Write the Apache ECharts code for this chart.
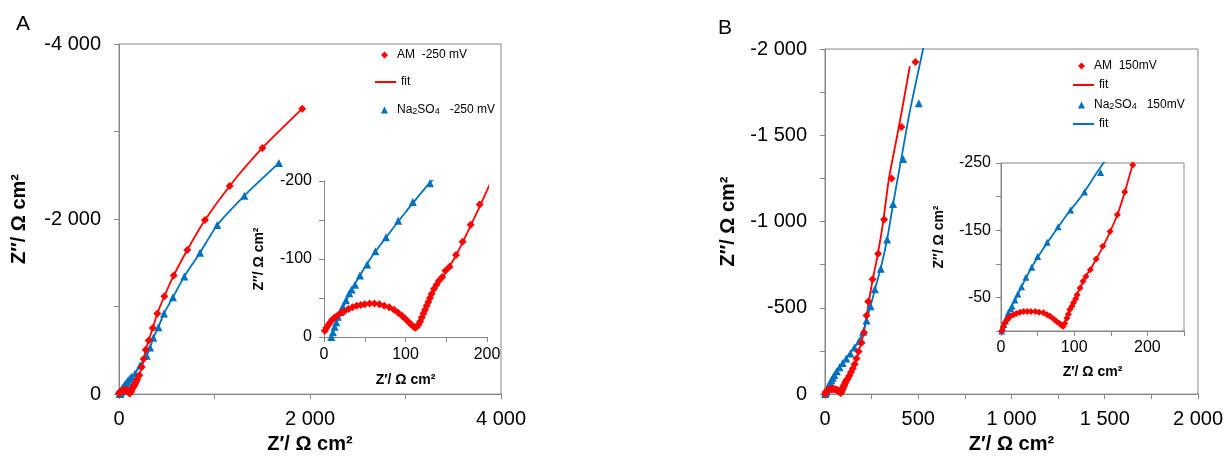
<!DOCTYPE html>
<html>
<head>
<meta charset="utf-8">
<script src="https://cdn.jsdelivr.net/npm/echarts@6/dist/echarts.min.js"></script>
<style>
html,body{margin:0;padding:0;background:#fff;}
#c{width:1226px;height:459px;}
</style>
</head>
<body>
<div id="c"></div>
<script>
// ---------- DATA (Z' , Z'' in Ω cm²) ----------
// Panel A (-250 mV)
const amA = [[1,-8],[3,-12],[5,-15],[7,-18],[10,-22],[13,-25],[17,-28],[21,-31],[25,-33],[30,-36],[35,-38],[40,-40],[45,-41],[50,-42],[56,-43],[62,-43],[68,-42],[74,-40],[80,-38],[86,-35],[91,-31],[96,-27],[100,-23],[104,-19],[107,-16],[110,-13],[112,-12],[114,-13],[116,-16],[118,-20],[120,-25],[122,-30],[124,-35],[126,-40],[128,-45],[130,-50],[132,-55],[135,-62],[138,-67],[141,-72],[145,-77],[149,-85],[154,-90],[162,-105],[170,-122],[180,-144],[191,-170],[213,-216],[238,-309],[258,-401],[279,-506],[311,-613],[353,-754],[401,-921],[475,-1118],[573,-1356],[715,-1646],[900,-1988],[1159,-2378],[1501,-2812],[1919,-3261]];
const fitAmA = [[0,-7],[5,-15],[10,-22],[20,-30],[30,-36],[40,-40],[50,-42],[60,-43],[70,-41],[80,-38],[90,-32],[100,-23],[106,-17],[111,-12],[115,-14],[120,-24],[130,-48],[140,-68],[150,-84],[160,-101],[170,-121],[180,-143],[190,-165],[200,-188],[215,-222],[240,-310],[260,-400],[280,-505],[310,-612],[353,-754],[401,-921],[475,-1118],[573,-1356],[715,-1646],[900,-1988],[1159,-2378],[1501,-2812],[1919,-3261]];
const naA = [[9,0],[11,-6],[13,-13],[15,-19],[17,-26],[20,-32],[23,-39],[27,-47],[31,-56],[34,-61],[38,-67],[44,-79],[53,-93],[63,-110],[76,-128],[91,-149],[109,-173],[130,-197],[168,-234],[220,-327],[290,-439],[325,-531],[359,-643],[412,-765],[471,-921],[565,-1107],[684,-1345],[848,-1616],[1029,-1932],[1312,-2266],[1675,-2641]];
const fitNaA = [[8,0],[15,-18],[25,-42],[40,-72],[60,-105],[80,-133],[100,-160],[130,-198],[170,-238],[220,-327],[290,-440],[325,-531],[359,-643],[412,-765],[471,-921],[565,-1107],[684,-1345],[848,-1616],[1029,-1932],[1312,-2266],[1675,-2641]];
// Panel B (150 mV)
const amB = [[1,0],[3,-6],[5,-12],[8,-16],[10,-19],[13,-22],[17,-24],[21,-26],[26,-28],[31,-29],[36,-29],[41,-29],[47,-29],[52,-28],[58,-27],[63,-24],[67,-22],[72,-18],[76,-14],[80,-11],[83,-8],[85,-7],[87,-11],[90,-19],[92,-25],[94,-32],[97,-37],[99,-42],[102,-48],[104,-54],[108,-64],[112,-74],[116,-81],[122,-91],[130,-107],[139,-126],[149,-148],[159,-173],[169,-207],[180,-247],[196,-298],[209,-357],[223,-456],[232,-536],[255,-665],[285,-813],[317,-1012],[357,-1250],[410,-1548],[485,-1924]];
const fitAmB = [[0,0],[3,-8],[8,-16],[15,-23],[25,-28],[35,-29],[45,-29],[55,-28],[65,-23],[75,-15],[84,-8],[88,-14],[95,-33],[105,-57],[115,-80],[125,-97],[140,-127],[150,-150],[160,-176],[170,-210],[180,-248],[195,-300],[210,-370],[225,-460],[235,-536],[255,-660],[283,-810],[312,-1000],[343,-1250],[396,-1548],[455,-1900]];
const naB = [[1,0],[2,-5],[4,-10],[6,-15],[8,-21],[10,-27],[13,-33],[15,-37],[19,-46],[23,-55],[28,-66],[34,-80],[42,-95],[50,-111],[63,-132],[78,-155],[95,-180],[114,-207],[136,-236],[158,-270],[183,-308],[205,-361],[223,-427],[244,-509],[267,-608],[299,-727],[333,-896],[365,-1101],[419,-1362],[503,-1685]];
const fitNaB = [[0,0],[5,-13],[10,-27],[20,-48],[30,-70],[42,-95],[55,-118],[70,-142],[90,-173],[110,-201],[140,-250],[160,-274],[183,-308],[205,-365],[223,-430],[244,-510],[267,-605],[299,-730],[333,-896],[365,-1101],[410,-1370],[455,-1640],[526,-2000],[550,-2130]];

// legend labels
const legendText = {
  amA: '{t|AM  -250 mV}',
  fitA: '{t|fit}',
  naA: '{t|Na}{s|2}{t|SO}{s|4}{t|   -250 mV}',
  amB: '{t|AM  150mV}',
  fitB: '{t|fit}',
  naB: '{t|Na}{s|2}{t|SO}{s|4}{t|   150mV}',
  fitB2: '{t|fit}'
};

// ---------- STYLE ----------
const RED = '#FF0000', BLUE = '#0070C0', GRAY = '#868686';
const FONT = "'Liberation Sans', Arial, sans-serif";

function fmt(v){
  const s = String(Math.abs(v)).replace(/\B(?=(\d{3})+(?!\d))/g, ' ');
  return (v < 0 ? '-' : '') + s;
}
function axis(opts){
  return {
    type: 'value', gridIndex: opts.g, min: opts.min, max: opts.max, interval: opts.interval,
    inverse: !!opts.inverse,
    name: opts.name, nameLocation: 'middle', nameGap: opts.nameGap,
    nameTextStyle: {fontFamily: FONT, fontWeight: 'bold', fontSize: opts.nameSize, color: '#000', padding: opts.namePad || 0},
    axisLine: {show: true, onZero: false, lineStyle: {color: GRAY, width: 1}},
    axisTick: {show: true, length: 5, lineStyle: {color: GRAY}},
    splitLine: {show: false},
    axisLabel: {fontFamily: FONT, fontSize: opts.labelSize, color: '#000', margin: opts.margin,
      formatter: v => opts.show(v) ? fmt(v) : ''}
  };
}
const xAxes = [
  axis({g:0, min:0, max:4000, interval:1000, name:'Z\u2032/ \u03A9 cm\u00B2', nameGap:37, nameSize:20, labelSize:20, margin:15, show:v=>v%2000===0}),
  axis({g:1, min:0, max:200, interval:50, name:'Z\u2032/ \u03A9 cm\u00B2', nameGap:36, nameSize:14, labelSize:16, margin:10, show:v=>v%100===0}),
  axis({g:2, min:0, max:2000, interval:250, name:'Z\u2032/ \u03A9 cm\u00B2', nameGap:38, nameSize:20, labelSize:20, margin:15, show:v=>v%500===0}),
  axis({g:3, min:0, max:250, interval:50, name:'Z\u2032/ \u03A9 cm\u00B2', nameGap:34, nameSize:14, labelSize:16, margin:9, show:v=>v%100===0})
];
const yAxes = [
  axis({g:0, min:-4000, max:0, interval:1000, inverse:true, name:'Z\u2033/ \u03A9 cm\u00B2', nameGap:90, nameSize:20, labelSize:20, margin:18, show:v=>v%2000===0}),
  axis({g:1, min:-200, max:0, interval:50, inverse:true, name:'Z\u2033/ \u03A9 cm\u00B2', nameGap:58, nameSize:14, labelSize:16, margin:12, show:v=>v%100===0}),
  axis({g:2, min:-2000, max:0, interval:250, inverse:true, name:'Z\u2033/ \u03A9 cm\u00B2', nameGap:87, nameSize:20, labelSize:20, margin:18, show:v=>v%500===0}),
  axis({g:3, min:-250, max:0, interval:50, inverse:true, name:'Z\u2033/ \u03A9 cm\u00B2', nameGap:55, nameSize:14, labelSize:16, margin:10, namePad:[0,0,0,20], show:v=>Math.abs(v)%100===50})
];

function fitLine(name, data, g, color){
  return {type:'line', name, data, xAxisIndex:g, yAxisIndex:g, symbol:'none', showSymbol:false,
    smooth:0.2, clip:true, lineStyle:{color, width:1.8}, itemStyle:{color}, z:2};
}
function pts(name, data, g, color, symbol, size){
  return {type:'scatter', name, data, xAxisIndex:g, yAxisIndex:g, symbol, symbolSize:size, clip:true,
    itemStyle:{color, opacity:1}, z:3};
}

const series = [
  fitLine('fitA', fitAmA, 0, RED), fitLine('fitNaA', fitNaA, 0, BLUE),
  pts('naA', naA, 0, BLUE, 'triangle', 8), pts('amA', amA, 0, RED, 'diamond', 8),
  fitLine('fitA', fitAmA, 1, RED), fitLine('fitNaA', fitNaA, 1, BLUE),
  pts('naA', naA, 1, BLUE, 'triangle', 8), pts('amA', amA, 1, RED, 'diamond', 8),
  fitLine('fitB', fitAmB, 2, RED), fitLine('fitB2', fitNaB, 2, BLUE),
  pts('naB', naB, 2, BLUE, 'triangle', 8), pts('amB', amB, 2, RED, 'diamond', 8),
  fitLine('fitB', fitAmB, 3, RED), fitLine('fitB2', fitNaB, 3, BLUE),
  pts('naB', naB, 3, BLUE, 'triangle', 7), pts('amB', amB, 3, RED, 'diamond', 7)
];

const richText = {t:{fontFamily:FONT, fontSize:12, color:'#000'}, s:{fontFamily:FONT, fontSize:9, color:'#000', padding:[3,0,0,0]}};
function legendFor(left, top, gap, names, isLine){
  return {
    orient:'vertical', left, top, itemGap:gap, padding:0,
    itemWidth: isLine ? 21 : 7, itemHeight:7,
    formatter: n => legendText[n],
    textStyle:{fontFamily:FONT, fontSize:12, color:'#000', padding: isLine ? 0 : [0,0,0,4], rich:richText},
    data: names.map(n => isLine ? {name:n, itemStyle:{opacity:0}} : {name:n})
  };
}

const option = {
  animation:false,
  backgroundColor:'#fff',
  grid:[
    {left:119, top:44, width:382, height:359, show:true, borderColor:GRAY, borderWidth:1, backgroundColor:'transparent'},
    {left:324, top:181, width:163, height:156, show:false},
    {left:825, top:49, width:374, height:351, show:true, borderColor:GRAY, borderWidth:1, backgroundColor:'transparent'},
    {left:1001, top:163, width:183, height:168, show:true, borderColor:GRAY, borderWidth:1, backgroundColor:'transparent'}
  ],
  xAxis: xAxes,
  yAxis: yAxes,
  legend:[
    legendFor(381, 49, 43, ['amA','naA'], false),
    legendFor(374, 76, 13, ['fitA'], true),
    legendFor(1078, 60, 27, ['amB','naB'], false),
    legendFor(1072, 79, 27, ['fitB','fitB2'], true)
  ],
  graphic:[
    {type:'text', left:16, top:14, style:{text:'A', font:"21px 'Liberation Sans', Arial, sans-serif", fill:'#000'}},
    {type:'text', left:718, top:18, style:{text:'B', font:"21px 'Liberation Sans', Arial, sans-serif", fill:'#000'}}
  ],
  series
};
const chart = echarts.init(document.getElementById('c'), null, {renderer:'canvas'});
chart.setOption(option);
</script>
</body>
</html>
